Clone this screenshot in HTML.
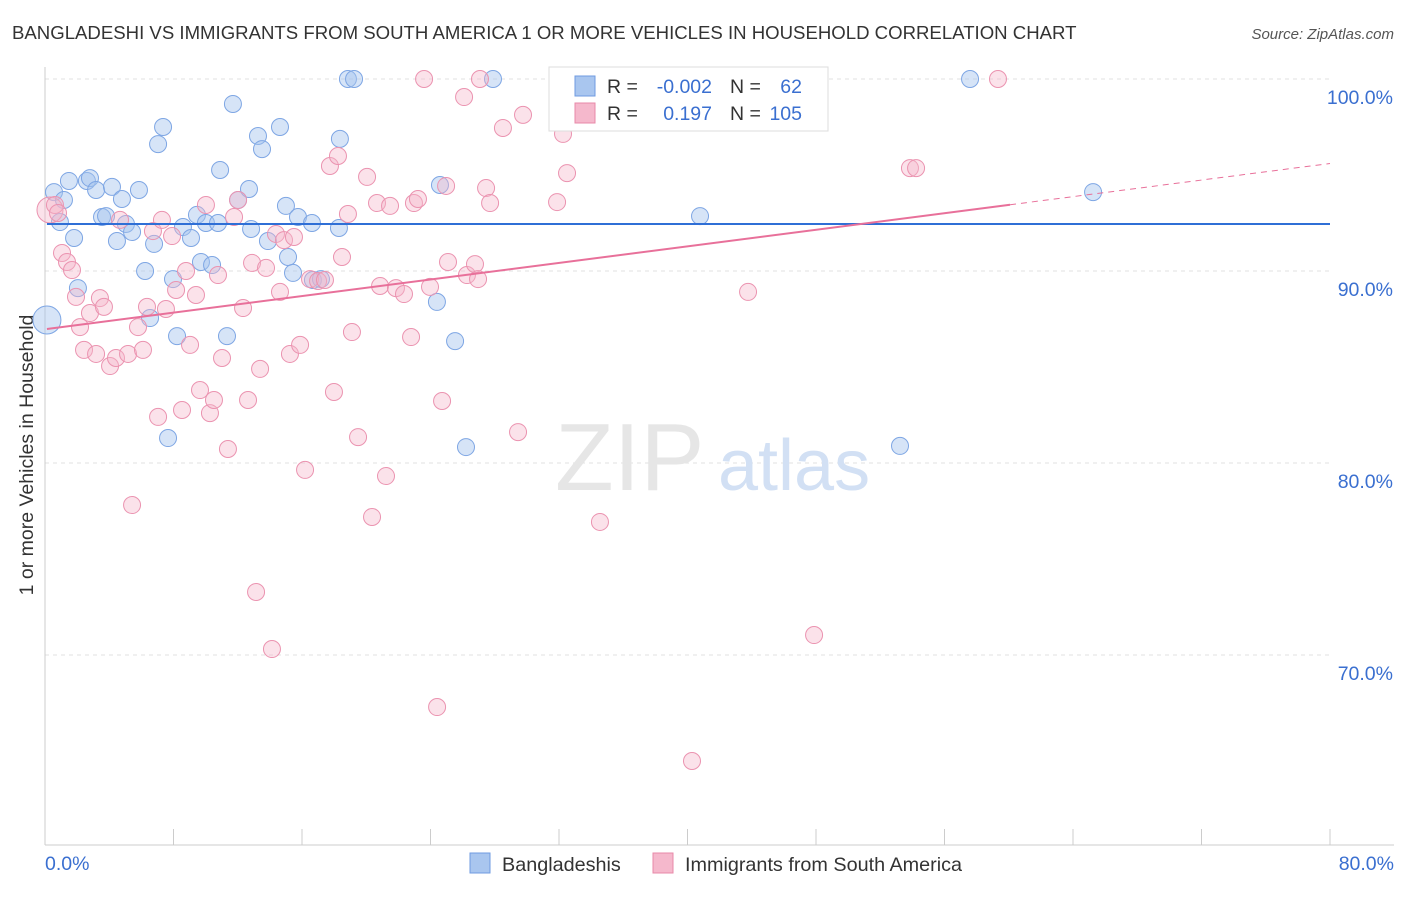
<!DOCTYPE html>
<html><head><meta charset="utf-8"><style>
body{margin:0;background:#fff;font-family:"Liberation Sans",sans-serif}
svg text{font-family:"Liberation Sans",sans-serif}
</style></head><body>
<svg id="chart" width="1406" height="892" viewBox="0 0 1406 892">
<text x="12" y="39" font-size="18.6" fill="#333">BANGLADESHI VS IMMIGRANTS FROM SOUTH AMERICA 1 OR MORE VEHICLES IN HOUSEHOLD CORRELATION CHART</text>
<text x="1394" y="39" font-size="15" fill="#555" font-style="italic" text-anchor="end">Source: ZipAtlas.com</text>
<text x="33" y="455" font-size="19.5" fill="#333" text-anchor="middle" transform="rotate(-90 33 455)">1 or more Vehicles in Household</text>
<g id="grid"></g><g id="axes"></g>
<text x="555" y="490" font-size="96" fill="#e6e6e6" font-family="Liberation Serif">ZIP</text>
<text x="718" y="490" font-size="72" fill="#d2e0f4">atlas</text>
<g id="pts"></g><g id="lines"></g>
<g>
<rect x="549" y="67" width="279" height="64" fill="#fff" stroke="#ddd"/>
<rect x="575" y="76" width="20" height="20" fill="#a9c6ef" stroke="#6f9be0"/>
<rect x="575" y="103" width="20" height="20" fill="#f5b8cc" stroke="#e889a8"/>
<text x="607" y="93" font-size="19.5" fill="#333">R =</text>
<text x="712" y="93" font-size="19.5" fill="#3a6fd0" text-anchor="end">-0.002</text>
<text x="730" y="93" font-size="19.5" fill="#333">N =</text>
<text x="802" y="93" font-size="19.5" fill="#3a6fd0" text-anchor="end">62</text>
<text x="607" y="120" font-size="19.5" fill="#333">R =</text>
<text x="712" y="120" font-size="19.5" fill="#3a6fd0" text-anchor="end">0.197</text>
<text x="730" y="120" font-size="19.5" fill="#333">N =</text>
<text x="802" y="120" font-size="19.5" fill="#3a6fd0" text-anchor="end">105</text>
</g>
<g>
<rect x="470" y="853" width="20" height="20" fill="#a9c6ef" stroke="#6f9be0"/>
<text x="502" y="871" font-size="19.8" fill="#333">Bangladeshis</text>
<rect x="653" y="853" width="20" height="20" fill="#f5b8cc" stroke="#e889a8"/>
<text x="685" y="871" font-size="19.8" fill="#333">Immigrants from South America</text>
</g>
</svg>
<script>
const yTicks=[100,90,80,70];
const yTickLabels=["100.0%","90.0%","80.0%","70.0%"];
const blueX=[0.12,0.56,0.93,1.18,1.49,1.81,2.05,2.61,2.80,3.18,3.55,3.80,4.17,4.48,4.79,5.04,5.42,5.85,6.23,6.54,6.79,7.04,7.35,7.66,7.97,8.22,8.59,9.09,9.46,9.71,10.02,10.40,10.77,10.90,11.33,11.70,12.02,12.70,12.83,13.26,13.51,13.88,14.63,15.00,15.13,15.44,15.75,16.62,16.68,17.18,18.36,18.30,18.86,19.24,24.40,24.59,25.53,26.21,27.89,40.78,53.23,57.59,65.25];
const blueY=[87.45,94.11,92.55,93.70,94.69,91.72,89.11,94.69,94.84,94.22,92.81,92.86,94.38,91.56,93.75,92.45,92.03,94.22,90.0,87.55,91.41,96.61,97.50,81.30,89.58,86.61,92.29,91.72,92.92,90.47,92.50,90.31,92.50,95.26,86.61,98.70,93.70,94.27,92.19,97.03,96.35,91.56,97.50,93.39,90.73,89.90,92.81,92.50,89.53,89.58,96.88,92.24,100,100,88.39,94.48,86.35,80.83,100,92.86,80.89,100,94.11];
const pinkX=[0.31,0.62,0.81,1.06,1.37,1.68,1.93,2.18,2.43,2.80,3.18,3.42,3.67,4.05,4.42,4.67,5.17,5.42,5.79,6.10,6.35,6.72,7.04,7.28,7.53,7.91,8.16,8.53,8.78,9.03,9.40,9.65,10.02,10.27,10.52,10.77,11.02,11.39,11.77,12.02,12.33,12.64,12.89,13.14,13.39,13.76,14.13,14.38,14.63,14.88,15.25,15.50,15.88,16.19,16.50,17.00,17.43,17.74,17.99,18.24,18.49,18.86,19.11,19.49,20.05,20.36,20.67,20.86,21.23,21.48,21.85,22.35,22.79,22.97,23.22,23.60,23.97,24.41,24.72,24.97,25.09,26.09,26.27,26.77,26.96,27.08,27.46,27.71,28.51,29.45,29.76,31.88,32.25,32.50,34.55,36.42,38.29,43.77,47.88,53.85,54.23,59.33,40.28];
const pinkY=[93.18,93.44,93.02,90.94,90.47,90.05,88.65,87.08,85.89,87.81,85.68,88.59,88.13,85.05,85.47,92.66,85.68,77.81,87.08,85.89,88.13,92.08,82.40,92.66,88.02,91.82,89.01,82.76,90.0,86.15,88.75,83.80,93.44,82.60,83.28,89.79,85.47,80.73,92.81,93.70,88.07,83.28,90.42,73.28,84.90,90.16,70.31,91.93,88.91,91.61,85.68,91.77,86.15,79.64,89.58,89.48,89.53,95.47,83.70,95.99,90.73,92.97,86.82,81.35,94.90,77.19,93.54,89.22,79.32,93.39,89.11,88.80,86.56,93.54,93.75,100,89.17,67.29,83.23,94.43,90.47,99.06,89.79,90.36,89.58,100,94.32,93.54,97.45,81.61,98.13,93.59,97.14,95.10,76.93,100,100,88.91,71.04,95.36,95.36,100,64.48];
const blueTrend=[92.45,92.45];
const pinkTrend=[86.98,95.6];
const NS="http://www.w3.org/2000/svg";
const X=v=>45+v/80*1285;
const Y=v=>79+(100-v)*19.2;
function mk(p,t,a){const e=document.createElementNS(NS,t);for(const k in a)e.setAttribute(k,a[k]);document.getElementById(p).appendChild(e);return e;}
yTicks.forEach((t,i)=>{
 const l=mk('grid','line',{x1:45,x2:1330,y1:Y(t),y2:Y(t),stroke:'#e2e2e2','stroke-dasharray':'4 4'});
 
 
 const tx=mk('grid','text',{x:1393,y:Y(t)+25,'font-size':19.5,fill:'#3a6fd0','text-anchor':'end'});
 tx.textContent=yTickLabels[i];
 
 
});
mk('axes','line',{x1:45,x2:45,y1:67,y2:845,stroke:'#ccc'});
mk('axes','line',{x1:45,x2:1394,y1:845,y2:845,stroke:'#ccc'});
for(let i=0;i<=10;i++){const t=mk('axes','line',{x1:X(i*8),x2:X(i*8),y1:829,y2:845,stroke:'#ccc'});
 
 }
const x0=mk('axes','text',{x:45,y:870,'font-size':19.5,fill:'#3a6fd0'});x0.textContent='0.0%';


const x1=mk('axes','text',{x:1394,y:870,'font-size':19.5,fill:'#3a6fd0','text-anchor':'end'});x1.textContent='80.0%';


blueX.forEach((v,i)=>{const c=mk('pts','circle',{cx:X(v),cy:Y(blueY[i]),r:i==0?14:8.5,fill:'rgba(165,195,238,0.45)',stroke:'#7ea6e4','stroke-width':1});
 
 });
pinkX.forEach((v,i)=>{const c=mk('pts','circle',{cx:X(v),cy:Y(pinkY[i]),r:i==0?13:8.5,fill:'rgba(246,182,203,0.4)',stroke:'#eb93b0','stroke-width':1});
 
 });
const bl=mk('lines','line',{x1:X(0.12),x2:X(80),y1:Y(blueTrend[0]),y2:Y(blueTrend[1]),stroke:'#2f6fd6','stroke-width':2});


const pf=v=>pinkTrend[0]+(pinkTrend[1]-pinkTrend[0])*(v-0.12)/(80-0.12);
const pl=mk('lines','line',{x1:X(0.12),x2:X(60.08),y1:Y(pf(0.12)),y2:Y(pf(60.08)),stroke:'#e8709a','stroke-width':2});


const pd=mk('lines','line',{x1:X(60.08),x2:X(80),y1:Y(pf(60.08)),y2:Y(pf(80)),stroke:'#e8709a','stroke-width':1,'stroke-dasharray':'6 5'});


</script>
</body></html>
